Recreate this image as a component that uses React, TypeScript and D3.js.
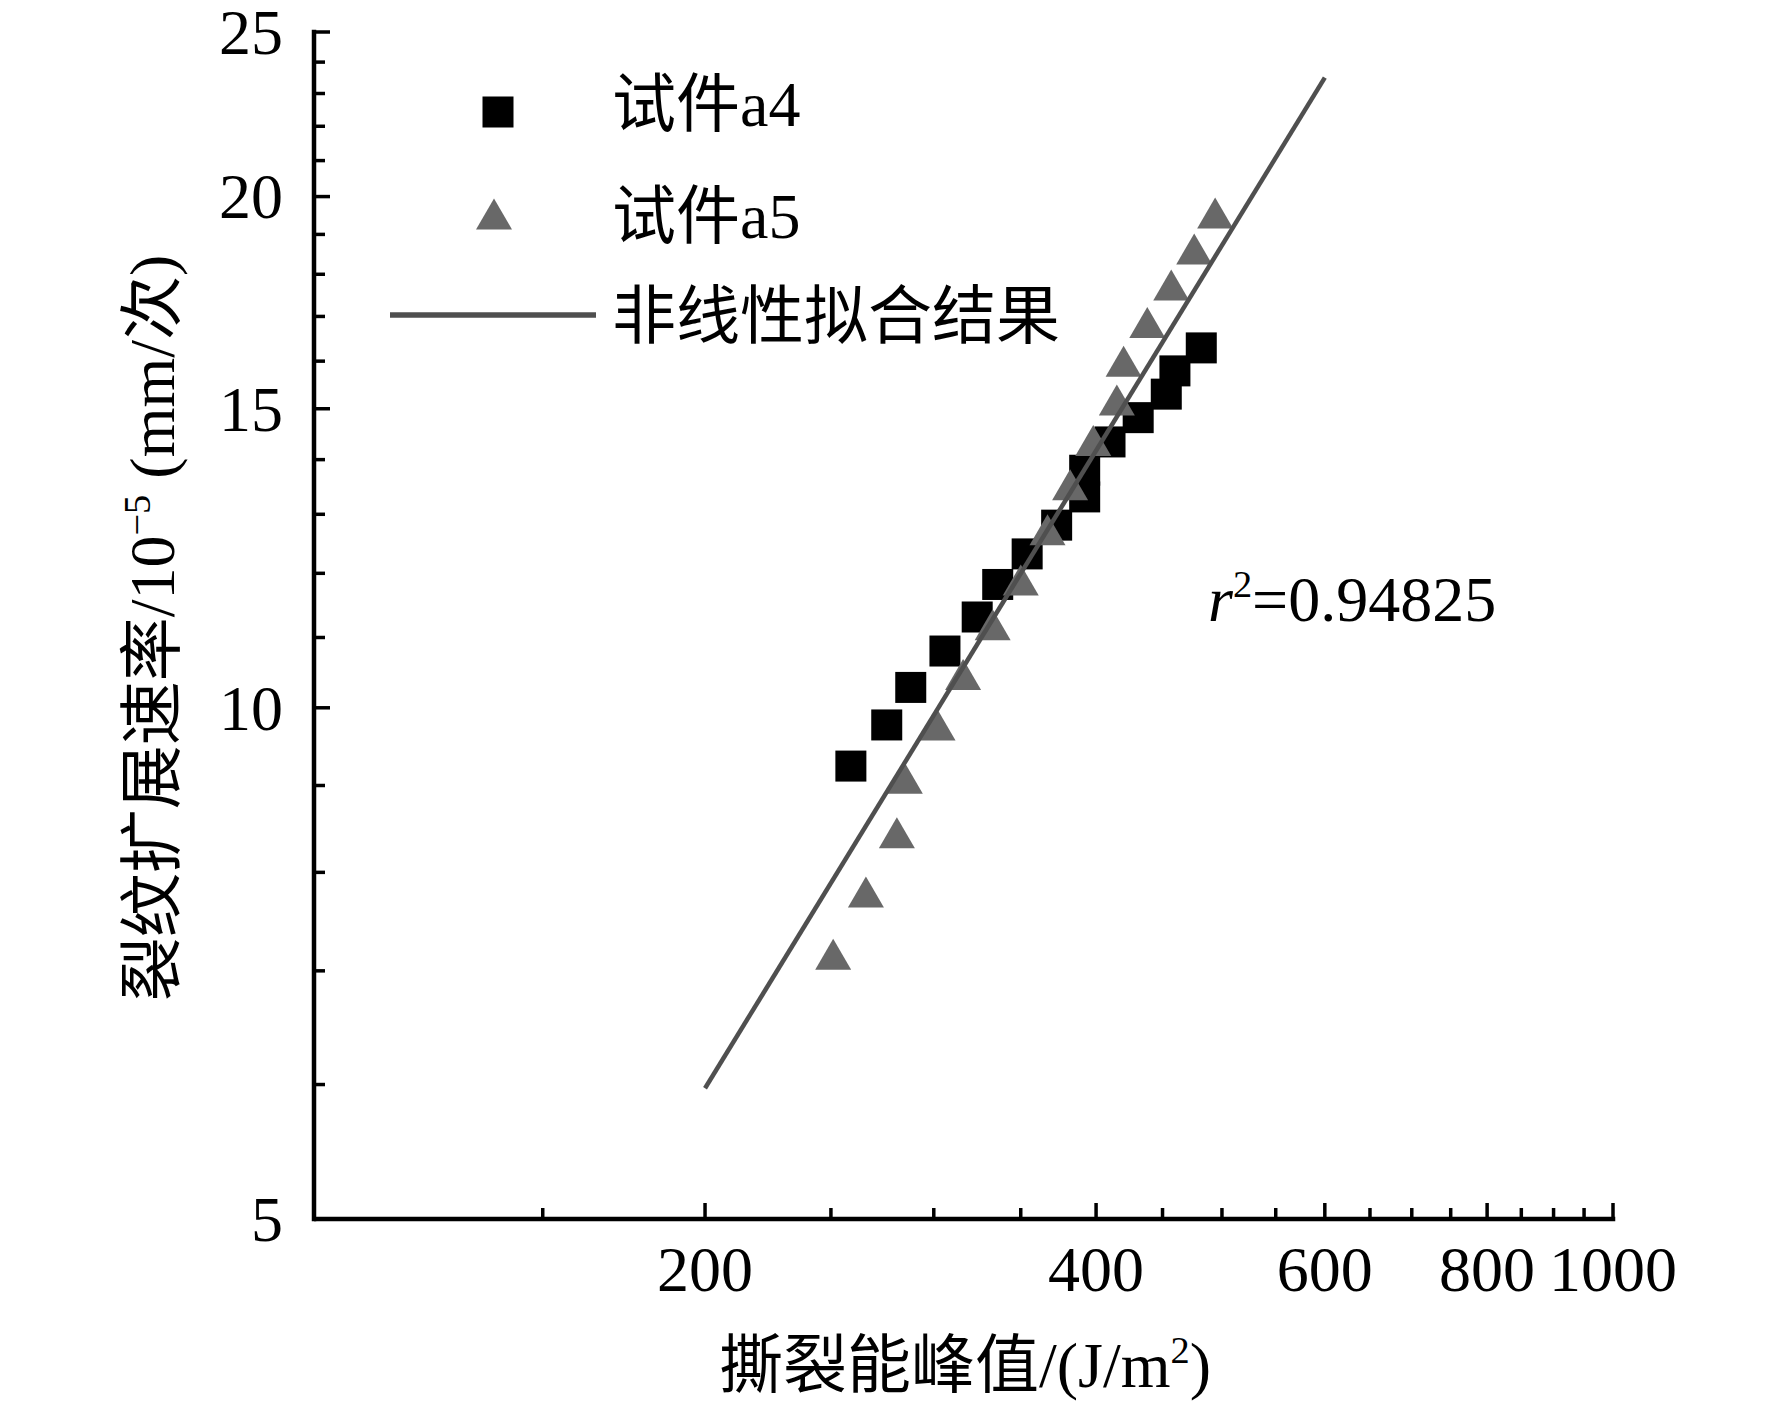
import React from 'react';
import * as d3 from 'd3';

// specimen a4 (squares)
const a4Energy = [259, 276, 288, 306, 324, 336, 354, 373, 392, 392, 410, 431, 453, 460, 482];
const a4Rate = [9.24, 9.77, 10.28, 10.8, 11.31, 11.82, 12.32, 12.81, 13.31, 13.8, 14.34, 14.82, 15.3, 15.79, 16.29];

// specimen a5 (triangles)
const a5Energy = [251, 266, 281, 285, 302, 316, 333, 350, 367, 382, 398, 415, 420, 438, 457, 476, 494];
const a5Rate = [7.16, 7.79, 8.44, 9.09, 9.77, 10.46, 11.19, 11.89, 12.73, 13.53, 14.37, 15.18, 16.0, 16.86, 17.74, 18.63, 19.56];

// fitted curve end points (straight in log-log)
const fitEnergy = [200, 600];
const fitRate = [5.97, 23.5];

const xMajorTicks = [200, 400, 600, 800, 1000];
const xMinorTicks = [150, 250, 300, 350, 450, 500, 550, 650, 700, 750, 850, 900, 950];
const yMajorTicks = [5, 10, 15, 20, 25];
const yMinorTicks = [6, 7, 8, 9, 11, 12, 13, 14, 16, 17, 18, 19, 21, 22, 23, 24];

const legendLabels = ['试件a4', '试件a5', '非线性拟合结果'];
const r2Value = '0.94825';

const W = 1772;
const H = 1409;
const plot = { left: 314, right: 1613, top: 32, bottom: 1219 };

const FONT = "'Liberation Serif', 'Times New Roman', 'Noto Sans CJK SC', serif";
const CJK = "'Noto Sans CJK SC', 'Liberation Serif', serif";
const FS = 64;

const SQ = 31;
const TRI_W = 36;
const TRI_H = 31;

const trianglePath = (cx: number, cy: number) =>
  `M${cx},${cy - TRI_H / 2}L${cx + TRI_W / 2},${cy + TRI_H / 2}L${cx - TRI_W / 2},${cy + TRI_H / 2}Z`;

const App: React.FC = () => {
  const x = d3.scaleLog().domain([100, 1000]).range([plot.left, plot.right]);
  const y = d3.scaleLog().domain([5, 25]).range([plot.bottom, plot.top]);

  const a4 = a4Energy.map((e, i) => ({ e, r: a4Rate[i] }));
  const a5 = a5Energy.map((e, i) => ({ e, r: a5Rate[i] }));
  const fit = fitEnergy.map((e, i) => ({ e, r: fitRate[i] }));

  const line = d3
    .line<{ e: number; r: number }>()
    .x((d) => x(d.e))
    .y((d) => y(d.r));

  const axisColor = '#000';
  const axisW = 4.5;
  const major = 16;
  const minor = 11;

  return (
    <svg
      width={W}
      height={H}
      style={{ position: 'absolute', left: 0, top: 0, background: '#fff' }}
    >
      <rect width={W} height={H} fill="#fff" />

      {/* axes */}
      <line x1={plot.left} x2={plot.right + axisW / 2} y1={plot.bottom} y2={plot.bottom} stroke={axisColor} strokeWidth={axisW} />
      <line x1={plot.left} x2={plot.left} y1={plot.bottom + axisW / 2} y2={plot.top - axisW / 2} stroke={axisColor} strokeWidth={axisW} />

      {xMajorTicks.map((t) => (
        <line key={'xM' + t} x1={x(t)} x2={x(t)} y1={plot.bottom} y2={plot.bottom - major} stroke={axisColor} strokeWidth={3.5} />
      ))}
      {xMinorTicks.map((t) => (
        <line key={'xm' + t} x1={x(t)} x2={x(t)} y1={plot.bottom} y2={plot.bottom - minor} stroke={axisColor} strokeWidth={3.5} />
      ))}
      {yMajorTicks.map((t) => (
        <line key={'yM' + t} x1={plot.left} x2={plot.left + major} y1={y(t)} y2={y(t)} stroke={axisColor} strokeWidth={3.5} />
      ))}
      {yMinorTicks.map((t) => (
        <line key={'ym' + t} x1={plot.left} x2={plot.left + minor} y1={y(t)} y2={y(t)} stroke={axisColor} strokeWidth={3.5} />
      ))}

      {xMajorTicks.map((t) => (
        <text key={'xl' + t} x={x(t)} y={1291} textAnchor="middle" fontFamily={FONT} fontSize={FS}>
          {t}
        </text>
      ))}
      {yMajorTicks.map((t) => (
        <text key={'yl' + t} x={283} y={y(t)} dy="0.34em" textAnchor="end" fontFamily={FONT} fontSize={FS}>
          {t}
        </text>
      ))}

      {/* axis titles */}
      <text x={965} y={1387} textAnchor="middle" fontSize={FS}>
        <tspan fontFamily={CJK}>撕裂能峰值</tspan>
        <tspan fontFamily={FONT}>/(J/m</tspan>
        <tspan fontFamily={FONT} fontSize={FS * 0.6} dy={-FS * 0.38}>2</tspan>
        <tspan fontFamily={FONT} dy={FS * 0.38}>)</tspan>
      </text>
      <text transform={`translate(174,628) rotate(-90)`} textAnchor="middle" fontSize={FS}>
        <tspan fontFamily={CJK}>裂纹扩展速率</tspan>
        <tspan fontFamily={FONT}>/10</tspan>
        <tspan fontFamily={FONT} fontSize={FS * 0.6} dy={-FS * 0.38}>−5</tspan>
        <tspan fontFamily={FONT} dy={FS * 0.38}> (mm/</tspan>
        <tspan fontFamily={CJK}>次</tspan>
        <tspan fontFamily={FONT}>)</tspan>
      </text>

      {/* data */}
      <g fill="#000">
        {a4.map((d, i) => (
          <rect key={'a4' + i} x={x(d.e) - SQ / 2} y={y(d.r) - SQ / 2} width={SQ} height={SQ} />
        ))}
      </g>
      <g fill="#686868">
        {a5.map((d, i) => (
          <path key={'a5' + i} d={trianglePath(x(d.e), y(d.r))} />
        ))}
      </g>
      <path d={line(fit) ?? ''} fill="none" stroke="#4f4f4f" strokeWidth={4.5} />

      {/* legend */}
      <rect x={498 - SQ / 2} y={112 - SQ / 2} width={SQ} height={SQ} fill="#000" />
      <path d={trianglePath(494, 214)} fill="#686868" />
      <line x1={390} x2={596} y1={315} y2={315} stroke="#4f4f4f" strokeWidth={5.5} />
      <text x={612} y={126} fontSize={FS}>
        <tspan fontFamily={CJK}>{legendLabels[0].slice(0, 2)}</tspan>
        <tspan fontFamily={FONT}>{legendLabels[0].slice(2)}</tspan>
      </text>
      <text x={612} y={238} fontSize={FS}>
        <tspan fontFamily={CJK}>{legendLabels[1].slice(0, 2)}</tspan>
        <tspan fontFamily={FONT}>{legendLabels[1].slice(2)}</tspan>
      </text>
      <text x={612} y={338} fontSize={FS} fontFamily={CJK}>
        {legendLabels[2]}
      </text>

      {/* r squared */}
      <text x={1208} y={621} fontSize={FS} fontFamily={FONT}>
        <tspan fontStyle="italic">r</tspan>
        <tspan fontSize={FS * 0.6} dy={-FS * 0.38}>2</tspan>
        <tspan dy={FS * 0.38}>={r2Value}</tspan>
      </text>
    </svg>
  );
};

export default App;
